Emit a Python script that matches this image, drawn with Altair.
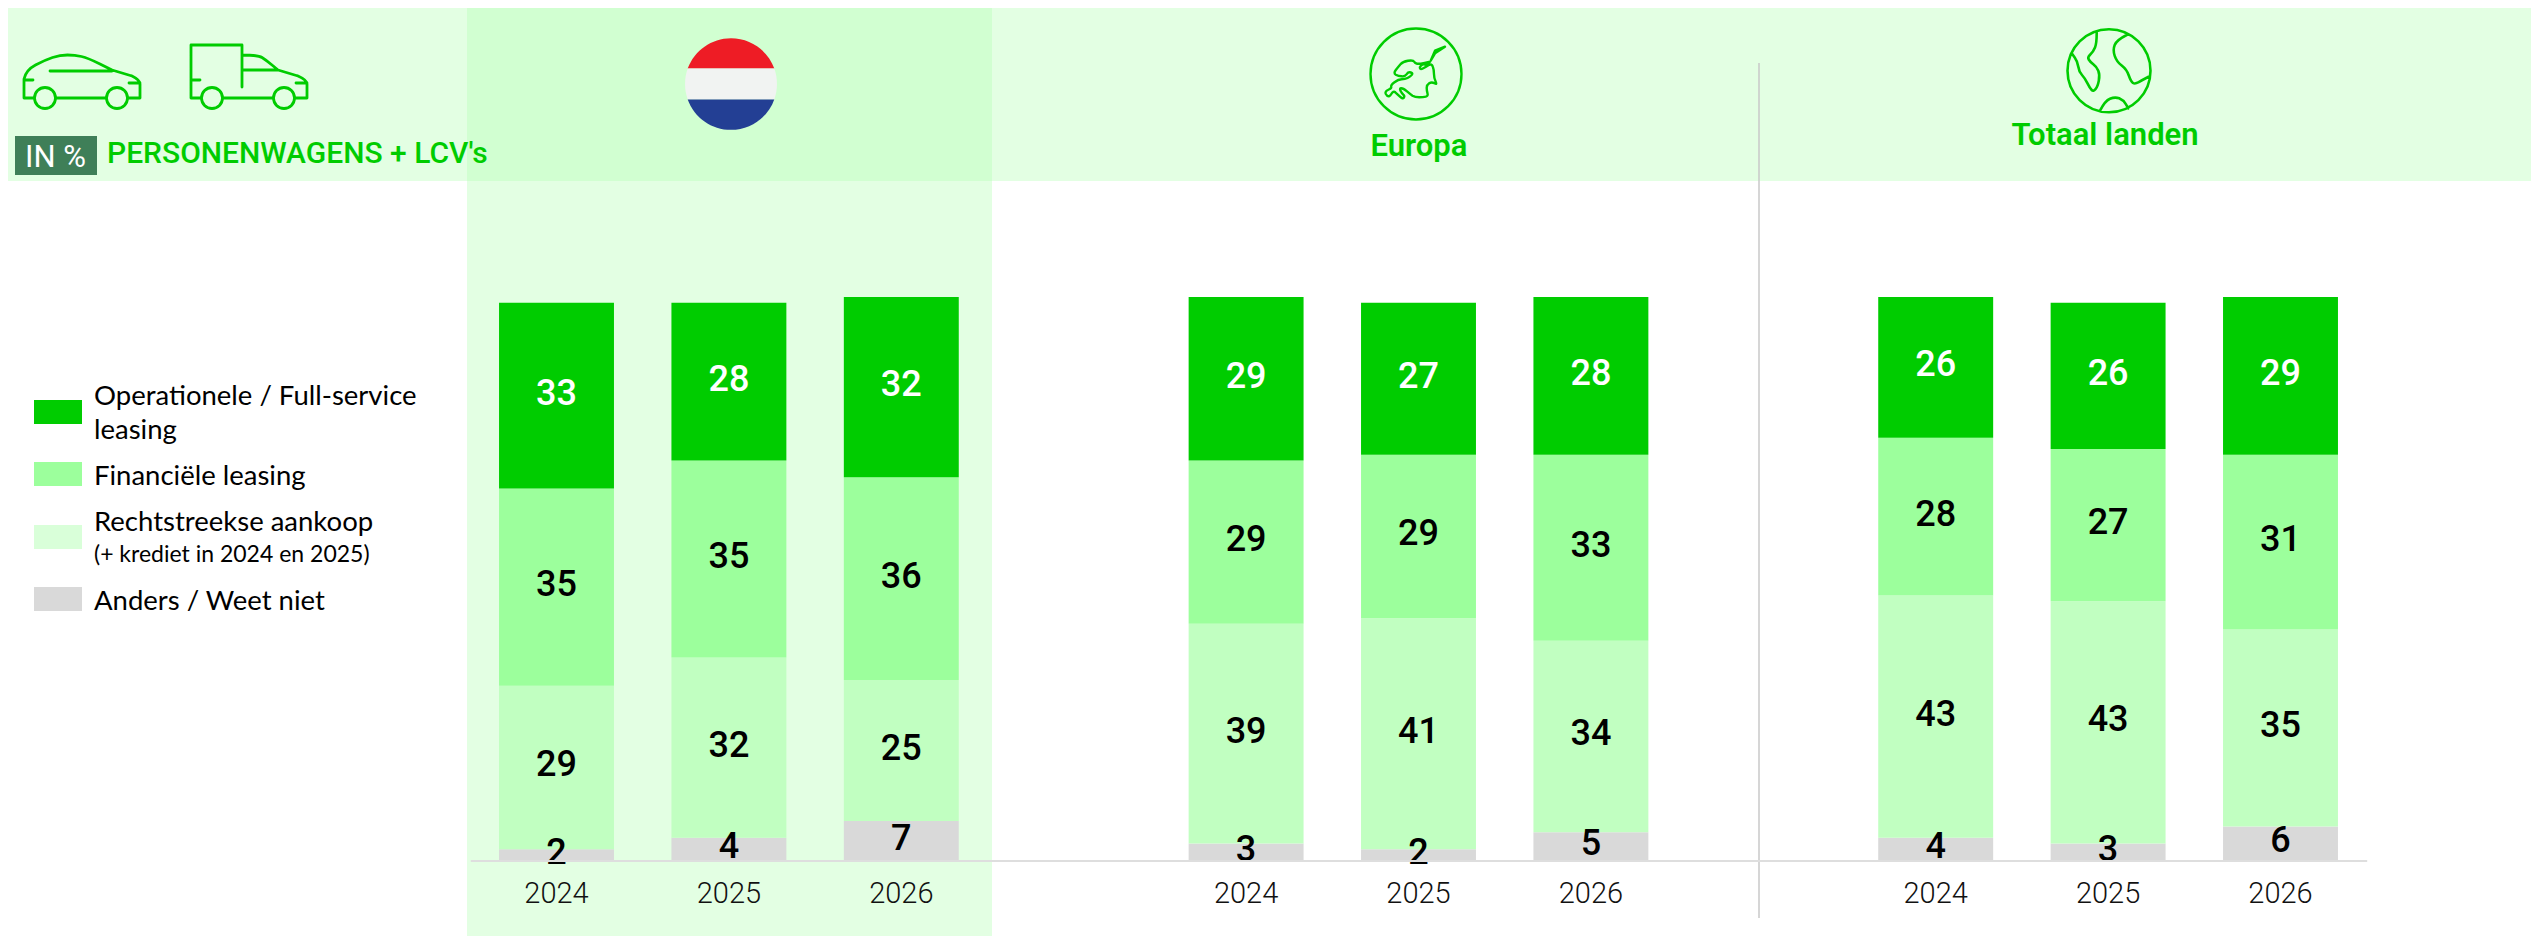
import altair as alt
import pandas as pd

# ---------- data ----------
panels = ["NL", "EU", "TL"]
years = ["2024", "2025", "2026"]
series = ["Anders / Weet niet", "Rechtstreekse aankoop", "Financiële leasing", "Operationele / Full-service leasing"]
# drawn heights, bottom to top, per panel and year
anders = [2, 4, 7, 3, 2, 5, 4, 3, 6]
aankoop = [29, 32, 25, 39, 41, 34, 43, 43, 35]
financieel = [35, 35, 36, 29, 29, 33, 28, 27, 31]
operationeel = [33, 28, 32, 29, 27, 28, 25, 26, 28]
# printed labels of the top segment (differ from the drawn height in two bars)
operationeel_labels = [33, 28, 32, 29, 27, 28, 26, 26, 29]

bar_colors = ["#D9D9D9", "#C1FFC1", "#9CFF9C", "#00CC00"]
label_colors = ["black", "black", "black", "white"]

categories = ["NL|2024", "NL|2025", "NL|2026", " ", "EU|2024", "EU|2025", "EU|2026", "  ", "TL|2024", "TL|2025", "TL|2026"]
bar_keys = [f"{p}|{y}" for p in panels for y in years]

rows = []
for i, key in enumerate(bar_keys):
    base = 0
    vals = [anders[i], aankoop[i], financieel[i], operationeel[i]]
    labs = [anders[i], aankoop[i], financieel[i], operationeel_labels[i]]
    for s, v, l, c, lc in zip(series, vals, labs, bar_colors, label_colors):
        rows.append(dict(cat=key, series=s, y0=base, y1=base + v, mid=base + v / 2, label=str(l), col=c, lcol=lc))
        base += v
df = pd.DataFrame(rows)

W, H = 2523, 928
OX, OY = 8, 8  # page margin
one = alt.Data(values=[{"a": 1}])

GREEN = "#00CC00"
BAND = "#E3FFE3"
BAND2 = "#D1FFD1"


def rect(x0, y0, x1, y1, color):
    return alt.Chart(one).mark_rect(color=color, opacity=1).encode(
        x=alt.value(x0 - OX), x2=alt.value(x1 - OX), y=alt.value(y0 - OY), y2=alt.value(y1 - OY))


def text(s, x, y, size, color="black", weight=400, font="Roboto", align="left"):
    return alt.Chart(one).mark_text(text=s, fontSize=size, color=color, fontWeight=weight, font=font,
                                    align=align, baseline="alphabetic").encode(
        x=alt.value(x - OX), y=alt.value(y - OY))


def shape(path, stroke=GREEN, fill=None, sw=2.8):
    kw = dict(shape=path, size=4, opacity=1)
    if fill:
        kw.update(filled=True, fill=fill, strokeWidth=0)
    else:
        kw.update(filled=False, stroke=stroke, strokeWidth=sw, strokeJoin="round", strokeCap="round")
    return alt.Chart(one).mark_point(**kw).encode(x=alt.value(0), y=alt.value(0))


def P(x, y):
    return f"{x - OX:.1f},{y - OY:.1f}"


def poly(points, close=False):
    return "M" + " L".join(P(*p) for p in points) + ("Z" if close else "")


def smooth(points):
    d = "M" + P(*points[0])
    for a, b in zip(points[1:-1], points[2:]):
        m = ((a[0] + b[0]) / 2, (a[1] + b[1]) / 2)
        d += f" Q{P(*a)} {P(*m)}"
    return d + " L" + P(*points[-1])


def circle(cx, cy, r):
    return (f"M{P(cx - r, cy)} A{r},{r} 0 1 1 {P(cx + r, cy)} A{r},{r} 0 1 1 {P(cx - r, cy)}Z")


# background
bg = [
    rect(8, 8, 2539, 181, BAND),
    rect(467, 8, 992, 944, BAND),
    rect(467, 8, 992, 181, BAND2),
    rect(15, 136, 97, 175, "#3F7F58"),
]

# flag
fx, fy, fr = 731, 84, 46
hw, hh = 43.3, 15.4
flag = [
    shape(f"M{P(fx - hw, fy - hh)} A{fr},{fr} 0 0 1 {P(fx + hw, fy - hh)}Z", fill="#EE1C25"),
    shape(f"M{P(fx - hw, fy - hh)} L{P(fx + hw, fy - hh)} A{fr},{fr} 0 0 1 {P(fx + hw, fy + hh)} "
          f"L{P(fx - hw, fy + hh)} A{fr},{fr} 0 0 1 {P(fx - hw, fy - hh)}Z", fill="#F1F3F2"),
    shape(f"M{P(fx + hw, fy + hh)} A{fr},{fr} 0 0 1 {P(fx - hw, fy + hh)}Z", fill="#233F94"),
]

# car and van
car = (
    poly([(34, 98), (24, 98), (24, 79)]) + " " +
    smooth([(24, 79), (26, 70), (45, 60), (60, 55), (75, 55), (88, 58), (112, 70)]) + " " +
    poly([(112, 70), (132, 76)]) + " " + smooth([(132, 76), (140, 80), (140, 88)]) + " " +
    poly([(140, 88), (140, 98), (128, 98)]) + " " + poly([(56, 98), (106, 98)]) + " " +
    poly([(50, 71), (112, 71)]) + " " + poly([(24, 80), (33, 80)]) + " " + poly([(129, 83), (140, 83)]) + " " +
    circle(45, 98, 10.5) + " " + circle(117, 98, 10.5)
)
van = (
    poly([(201, 98), (191, 98), (191, 45), (242, 45), (242, 87)]) + " " +
    smooth([(242, 55), (258, 55), (266, 60), (278, 70)]) + " " +
    poly([(242, 70), (278, 70), (298, 76)]) + " " + smooth([(298, 76), (307, 80), (307, 88)]) + " " +
    poly([(307, 88), (307, 98), (295, 98)]) + " " + poly([(223, 98), (273, 98)]) + " " +
    poly([(191, 80), (200, 80)]) + " " + poly([(296, 83), (307, 83)]) + " " +
    circle(212, 98, 10.5) + " " + circle(284, 98, 10.5)
)

# Europe globe


def z_eu(pts):
    return [(1360 + x / 3, 20 + y / 3) for x, y in pts]


eu_arm = [(255, 80), (225, 92), (212, 122), (225, 100), (255, 80)]
eu_main = [(210, 125), (200, 135), (188, 132), (178, 142), (182, 149), (198, 140), (215, 130), (222, 150), (222, 175),
           (232, 195), (215, 185), (200, 195), (200, 212), (205, 228), (190, 232), (165, 232), (150, 222), (130, 205),
           (118, 205), (125, 220), (135, 228), (128, 238), (112, 222), (100, 212), (88, 232), (75, 222), (78, 212),
           (95, 205), (92, 195), (115, 178), (135, 178), (150, 170), (160, 160), (145, 155), (135, 170), (115, 168),
           (100, 160), (115, 140), (128, 125), (160, 120), (165, 130), (178, 132), (210, 125)]
eu_path = circle(1416, 74, 45.5) + " " + poly(z_eu(eu_arm)) + " " + smooth(z_eu(eu_main))

# World globe


def z_w(pts):
    return [(2055 + x / 3, 20 + y / 3) for x, y in pts]


w_a = [(125, 38), (125, 70), (115, 95), (97, 112), (105, 125), (125, 140), (135, 165), (128, 200), (115, 215),
       (105, 205), (90, 175), (72, 155), (68, 125), (50, 100)]
w_b = [(215, 45), (185, 60), (173, 90), (185, 125), (215, 148), (228, 185), (240, 193), (262, 180), (285, 168)]
w_c = [(135, 272), (150, 242), (180, 230), (205, 240), (220, 265)]
w_path = circle(2109, 70.7, 41.5) + " " + smooth(z_w(w_a)) + " " + smooth(z_w(w_b)) + " " + smooth(z_w(w_c))

icons = [shape(car), shape(van), shape(eu_path, sw=2.4), shape(w_path, sw=2.6)]

# header texts
head = [
    text("IN %", 25, 167, 31, "white", 400),
    text("PERSONENWAGENS + LCV's", 107, 163, 30, GREEN, 500),
    text("Europa", 1419, 156, 31, GREEN, 600, align="center"),
    text("Totaal landen", 2105, 145, 31, GREEN, 600, align="center"),
]

# legend
legend_swatches = [(400, "#00CC00"), (462, "#9CFF9C"), (525, "#D9FFD9"), (587, "#D9D9D9")]
legend_lines = [
    ("Operationele / Full-service", 405, 27.5),
    ("leasing", 439, 27.5),
    ("Financiële leasing", 485, 27.5),
    ("Rechtstreekse aankoop", 531, 27.5),
    ("(+ krediet in 2024 en 2025)", 562, 23),
    ("Anders / Weet niet", 610, 27.5),
]
legend = [rect(34, y, 82, y + 24, c) for y, c in legend_swatches]
legend += [text(s, 94, y, size, "black", 400, font="Lato") for s, y, size in legend_lines]

# vertical separator
sep = alt.Chart(one).mark_rule(color="#C8C8C8", strokeWidth=1.5).encode(
    x=alt.value(1759 - OX), y=alt.value(63 - OY), y2=alt.value(918 - OY))

x_scale = alt.Scale(domain=categories, range=[470.3 - OX, 2366.7 - OX], paddingInner=1 / 3, paddingOuter=1 / 6)
y_scale = alt.Scale(domain=[0, 100], range=[860.4 - OY, 860.4 - OY - 563.4], nice=False, zero=False)

x_enc = alt.X("cat:N", scale=x_scale, title=None, sort=None, axis=alt.Axis(
    offset=-(H - (860.4 - OY)), orient="bottom", ticks=False, grid=False, domain=True, domainColor="#DEDEDE",
    domainWidth=2, labelFontSize=29, labelFont="Roboto", labelFontWeight=300, labelColor="#111111", labelAngle=0,
    labelPadding=19, labelExpr="indexof(datum.value,'|')>0 ? split(datum.value,'|')[1] : ''", zindex=1))

bars = alt.Chart(df).mark_bar(opacity=1).encode(
    x=x_enc,
    y=alt.Y("y1:Q", scale=y_scale, axis=None, title=None),
    y2="y0:Q",
    color=alt.Color("col:N", scale=None),
)
labels = alt.Chart(df).mark_text(fontSize=36, font="Roboto", fontWeight=500, dy=-2).encode(
    x=x_enc,
    y=alt.Y("mid:Q", scale=y_scale, axis=None, title=None),
    text="label:N",
    color=alt.Color("lcol:N", scale=None),
)

chart = alt.layer(
    *bg, sep, *flag, *icons, bars, labels, *head, *legend
).properties(width=W, height=H, padding=0, autosize=alt.AutoSizeParams(type="none")).configure_view(stroke=None)

chart.save("out.html", embed_options={"renderer": "svg", "actions": False})
